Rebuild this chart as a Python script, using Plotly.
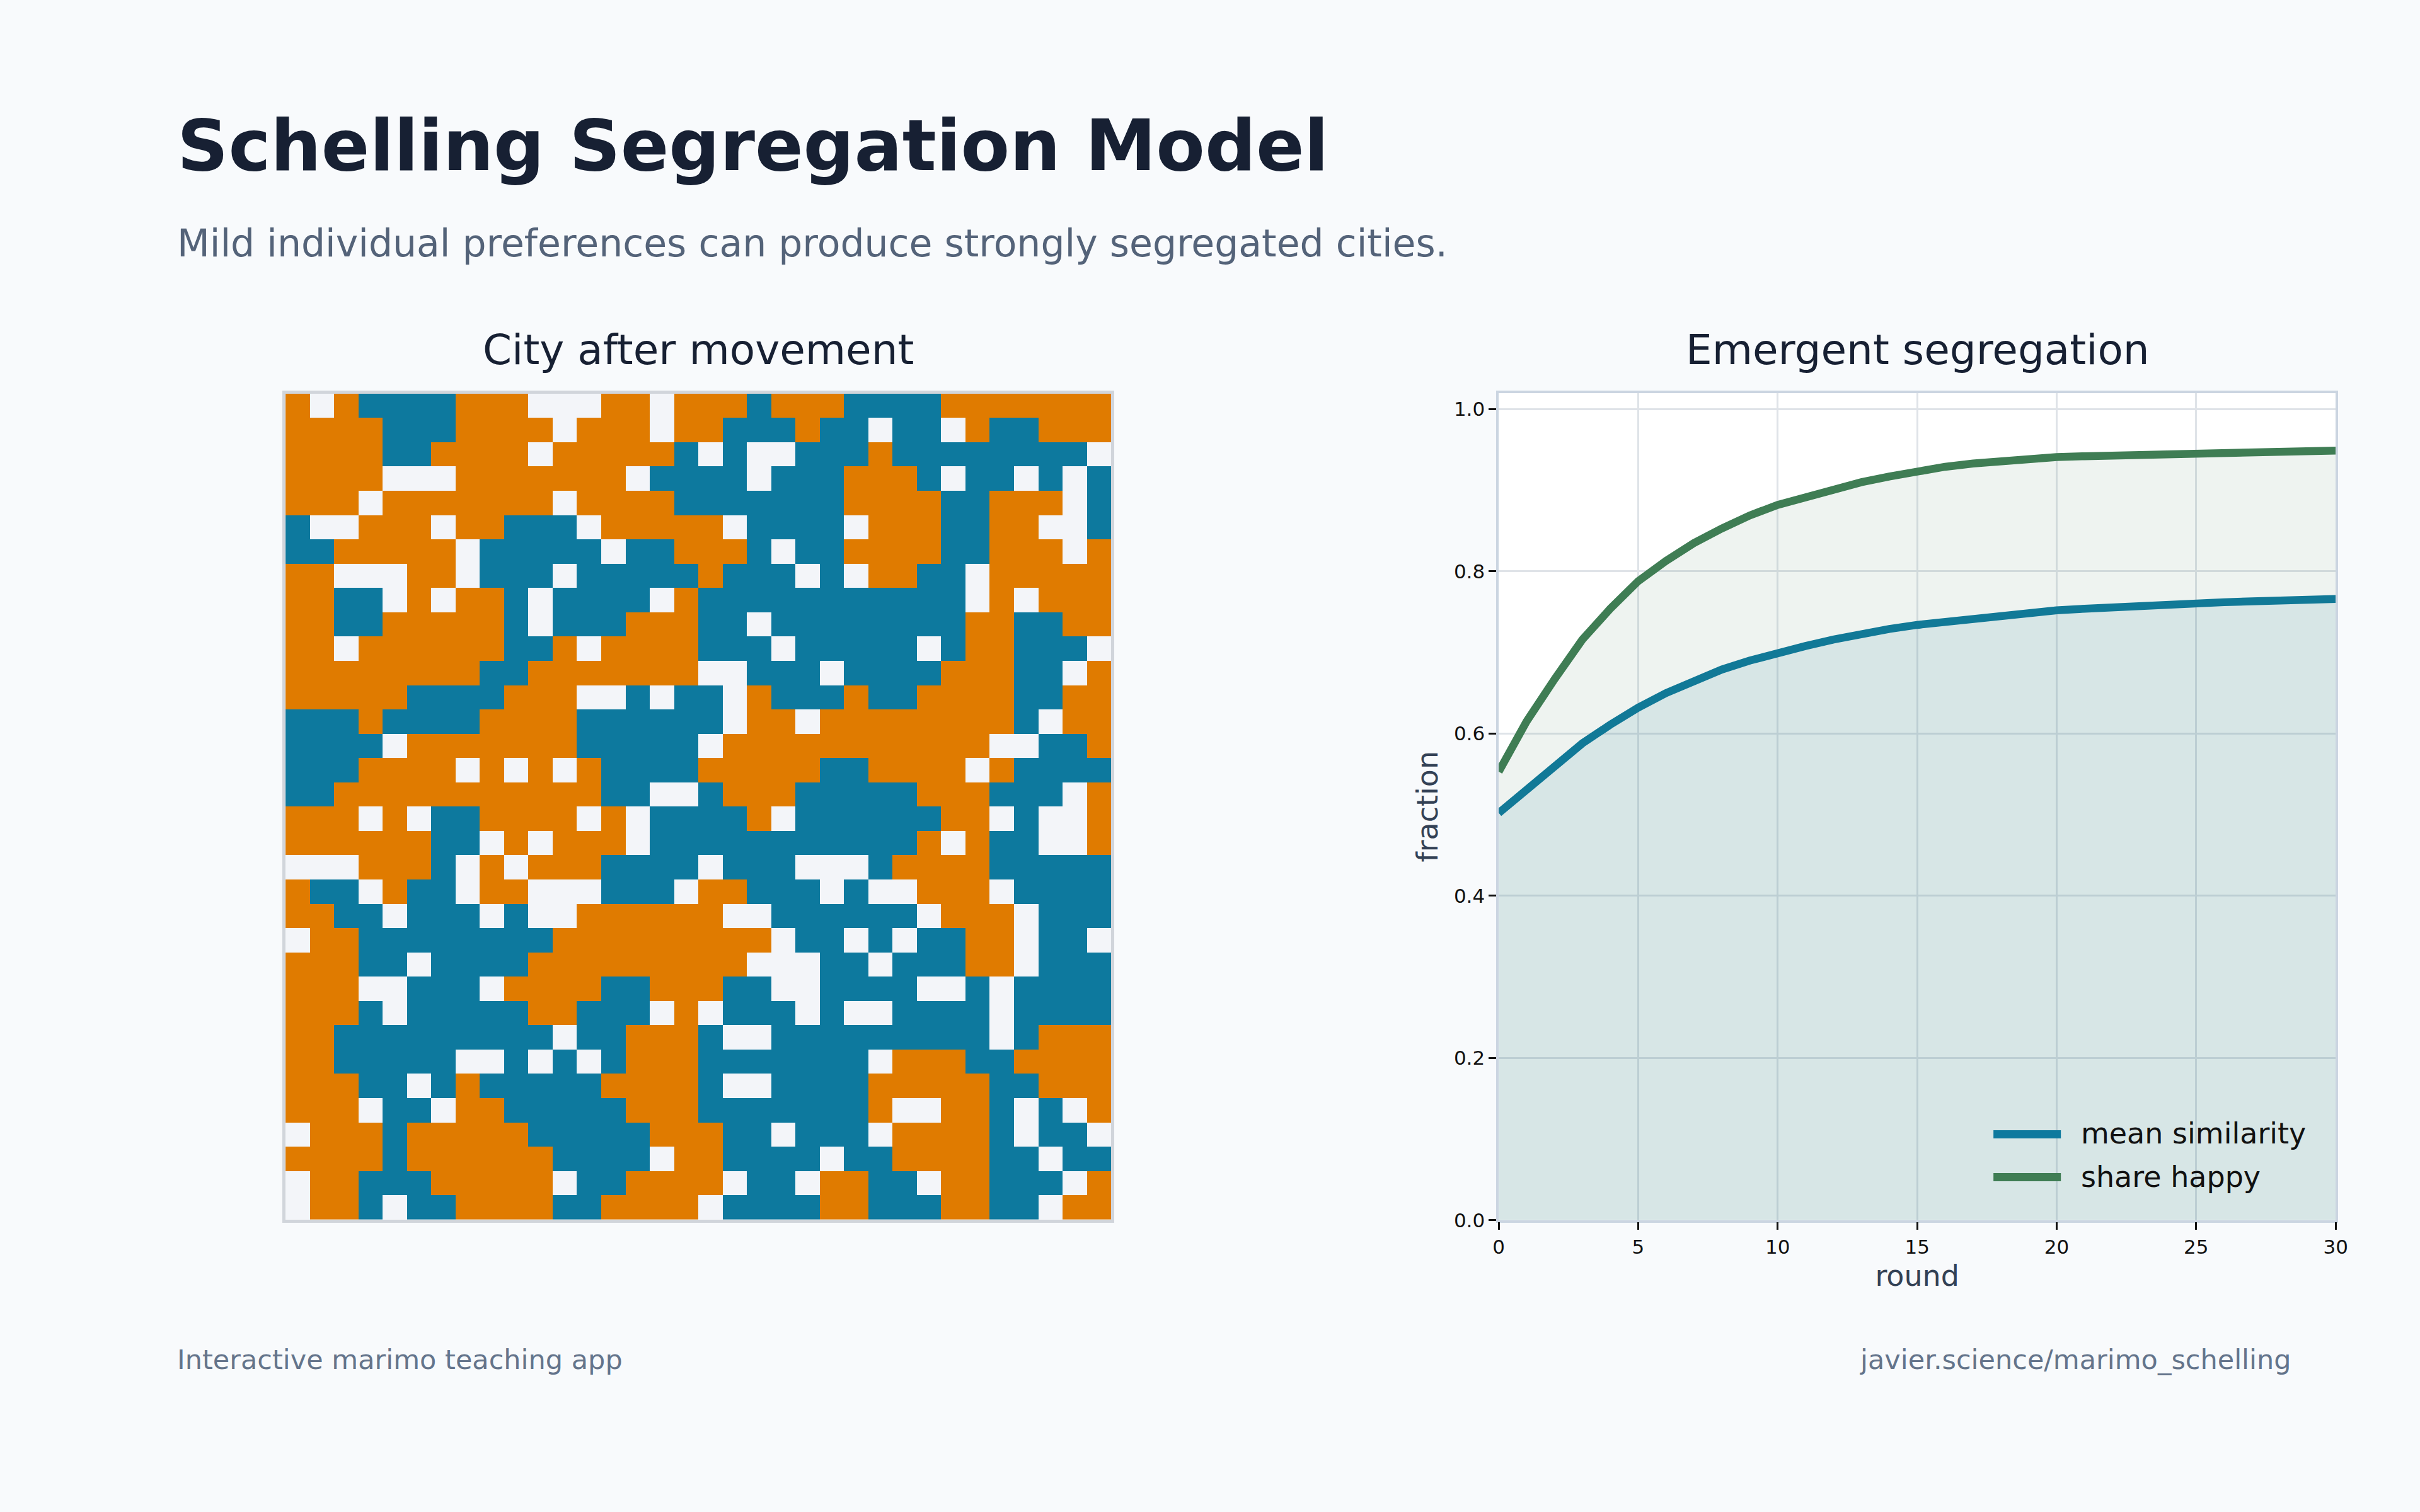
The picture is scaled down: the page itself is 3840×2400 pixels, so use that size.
import plotly.graph_objects as go

# ---------------- data ----------------
# City grid after movement (34 x 34): O = group A (orange), B = group B (blue), W = empty
city_rows = [
    "OWOBBBBOOOWWWOOWO" + "OOBOOOBBBBOOOOOOO",
    "OOOOBBBOOOOWOOOWO" + "OBBBOBBWBBWOBBOOO",
    "OOOOBBOOOOWOOOOOB" + "WBWWBBBOBBBBBBBBW",
    "OOOOWWWOOOOOOOWBB" + "BBWBBBOOOBWBBWBWB",
    "OOOWOOOOOOOWOOOOB" + "BBBBBBOOOOBBOOOWB",
    "BWWOOOWOOBBBWOOOO" + "OWBBBBWOOOBBOOWWB",
    "BBOOOOOWBBBBBWBBO" + "OOBWBBOOOOBBOOOWO",
    "OOWWWOOWBBBWBBBBB" + "OBBBWBWOOBBWOOOOO",
    "OOBBWOWOOBWBBBBWO" + "BBBBBBBBBBBWOWOOO",
    "OOBBOOOOOBWBBBOOO" + "BBWBBBBBBBBOOBBOO",
    "OOWOOOOOOBBOWOOOO" + "BBBWBBBBBWBOOBBBW",
    "OOOOOOOOBBOOOOOOO" + "WWBBBWBBBBOOOBBWO",
    "OOOOOBBBBOOOWWBWB" + "BWOBBBOBBOOOOBBOO",
    "BBBOBBBBOOOOBBBBB" + "BWOOWOOOOOOOOBWOO",
    "BBBBWOOOOOOOBBBBB" + "WOOOOOOOOOOOWWBBO",
    "BBBOOOOWOWOWOBBBB" + "OOOOOBBOOOOWOBBBB",
    "BBOOOOOOOOOOOBBWW" + "BOOOBBBBBOOOBBBWO",
    "OOOWOWBBOOOOWOWBB" + "BBOWBBBBBBOOWBWWO",
    "OOOOOOBBWOWOOOWBB" + "BBBBBBBBBOWOBBWWO",
    "WWWOOOBWOWOOOBBBB" + "WBBBWWWBOOOOBBBBB",
    "OBBWOBBWOOWWWBBBW" + "OOBBBWBWWOOOWBBBB",
    "OOBBWBBBWBWWOOOOO" + "OWWBBBBBBWOOOWBBB",
    "WOOBBBBBBBBOOOOOO" + "OOOWBBWBWBBOOWBBW",
    "OOOBBWBBBBOOOOOOO" + "OOWWWBBWBBBOOWBBB",
    "OOOWWBBBWOOOOBBOO" + "OBBWWBBBBWWBWBBBB",
    "OOOBWBBBBBOOBBBWO" + "WBBBWBWWBBBBWBBBB",
    "OOBBBBBBBBBWBBOOO" + "BWWBBBBBBBBBWBOOO",
    "OOBBBBBWWBWBWBOOO" + "BBBBBBBWOOOBBOOOO",
    "OOOBBWBOBBBBBOOOO" + "BWWBBBBOOOOOBBOOO",
    "OOOWBBWOOBBBBBOOO" + "BBBBBBBOWWOOBWBWO",
    "WOOOBOOOOOBBBBBOO" + "OBBWBBBWOOOOBWBBW",
    "OOOOBOOOOOOBBBBWO" + "OBBBBWBBOOOOBBWBB",
    "WOOBBBOOOOOWBBOOO" + "OWBBWOOBBWOOBBBWO",
    "WOOBWBBOOOOBBOOOO" + "WBBBBOOBBBOOBBWOO",
]
cell_codes = {"W": 0, "B": 1, "O": 2}

rounds = list(range(31))
mean_similarity = [0.502, 0.531, 0.560, 0.588, 0.611, 0.632, 0.650, 0.665, 0.679, 0.690,
                   0.700, 0.708, 0.716, 0.723, 0.729, 0.734, 0.738, 0.742, 0.746, 0.749,
                   0.752, 0.754, 0.756, 0.758, 0.760, 0.761, 0.762, 0.763, 0.764, 0.765, 0.766]
share_happy = [0.553, 0.615, 0.667, 0.716, 0.754, 0.788, 0.813, 0.835, 0.853, 0.869,
               0.882, 0.892, 0.902, 0.910, 0.917, 0.924, 0.929, 0.933, 0.936, 0.939,
               0.941, 0.942, 0.943, 0.944, 0.945, 0.946, 0.947, 0.948, 0.948, 0.949, 0.949]

x_ticks = [0, 5, 10, 15, 20, 25, 30]
y_ticks = [0.0, 0.2, 0.4, 0.6, 0.8, 1.0]

# ---------------- style ----------------
W, H = 3840, 2400
BG = "#f8fafc"
ORANGE = "#e07b00"
BLUE = "#0d799e"
EMPTY = "#f3f5f9"
GREEN = "#3f7d54"
DARK = "#172033"
FONT = "DejaVu Sans"

def px_x(p):
    p = p * 1.0079 - 10
    return p / W

def px_y(p):
    p = 235 + (p - 235) * 1.009
    return 1 - p / H

z = [[cell_codes[c] for c in row] for row in city_rows]
assert all(len(r) == 34 for r in z) and len(z) == 34

fig = go.Figure()

fig.add_trace(go.Heatmap(
    z=z,
    colorscale=[[0.0, EMPTY], [0.5, BLUE], [1.0, ORANGE]],
    zmin=0, zmax=2, showscale=False, xaxis="x", yaxis="y",
    hoverinfo="skip",
))

fig.add_trace(go.Scatter(
    x=rounds, y=mean_similarity, mode="lines", name="mean similarity",
    line=dict(color=BLUE, width=12.5), fill="tozeroy",
    fillcolor="rgba(13,121,158,0.10)", xaxis="x2", yaxis="y2", showlegend=False,
))
fig.add_trace(go.Scatter(
    x=rounds, y=share_happy, mode="lines", name="share happy",
    line=dict(color=GREEN, width=12.5), fill="tozeroy",
    fillcolor="rgba(63,125,84,0.09)", xaxis="x2", yaxis="y2", showlegend=False,
))

heat_x = [px_x(453), px_x(1763)]
heat_y = [px_y(1935), px_y(626)]
line_x = [px_x(2378), px_x(3706)]
line_y = [px_y(1936), px_y(625)]

fig.update_layout(
    width=W, height=H,
    margin=dict(l=0, r=0, t=0, b=0),
    paper_bgcolor=BG, plot_bgcolor="white",
    font=dict(family=FONT, color=DARK),
    showlegend=False,
    xaxis=dict(domain=heat_x, range=[-0.5, 33.5], showgrid=False, zeroline=False,
               showticklabels=False, ticks="", showline=True, mirror=True,
               linecolor="#d1d5db", linewidth=4.5, fixedrange=True),
    yaxis=dict(domain=heat_y, range=[33.5, -0.5], showgrid=False, zeroline=False,
               showticklabels=False, ticks="", showline=True, mirror=True,
               linecolor="#d1d5db", linewidth=4.5, fixedrange=True),
    xaxis2=dict(domain=line_x, range=[0, 30], anchor="y2",
                tickvals=x_ticks, ticks="outside", ticklen=12, tickwidth=3, tickcolor="#111111",
                tickfont=dict(size=31, color="#111111", family=FONT),
                showgrid=True, gridcolor="#dfe3e8", gridwidth=3, zeroline=False,
                showline=True, mirror=True, linecolor="#cbd5e1", linewidth=3.5,
                title=dict(text="round", font=dict(size=46, color="#334155", family=FONT), standoff=14)),
    yaxis2=dict(domain=line_y, range=[0, 1.02], anchor="x2",
                tickvals=y_ticks, tickformat=".1f", ticks="outside", ticklen=12, tickwidth=3,
                tickcolor="#111111", tickfont=dict(size=31, color="#111111", family=FONT),
                showgrid=True, gridcolor="#dfe3e8", gridwidth=3, zeroline=False,
                showline=True, mirror=True, linecolor="#cbd5e1", linewidth=3.5,
                title=dict(text="fraction", font=dict(size=46, color="#334155", family=FONT), standoff=12)),
)

annotations = [
    dict(text="<b>Schelling Segregation Model</b>", x=px_x(279), y=px_y(233), xanchor="left",
         yanchor="middle", font=dict(size=113, color=DARK, family=FONT)),
    dict(text="Mild individual preferences can produce strongly segregated cities.",
         x=px_x(279), y=px_y(388), xanchor="left", yanchor="middle",
         font=dict(size=60, color="#546379", family=FONT)),
    dict(text="City after movement", x=px_x(1108), y=px_y(557), xanchor="center", yanchor="middle",
         font=dict(size=66, color=DARK, family=FONT)),
    dict(text="Emergent segregation", x=px_x(3043), y=px_y(557), xanchor="center", yanchor="middle",
         font=dict(size=66, color=DARK, family=FONT)),
    dict(text="Interactive marimo teaching app", x=px_x(279), y=px_y(2157), xanchor="left",
         yanchor="middle", font=dict(size=43, color="#64748b", family=FONT)),
    dict(text="javier.science/marimo_schelling", x=px_x(3638), y=px_y(2157), xanchor="right",
         yanchor="middle", font=dict(size=43, color="#64748b", family=FONT)),
    dict(text="mean similarity", x=px_x(3300), y=px_y(1799), xanchor="left", yanchor="middle",
         font=dict(size=46, color="#111111", family=FONT)),
    dict(text="share happy", x=px_x(3300), y=px_y(1867), xanchor="left", yanchor="middle",
         font=dict(size=46, color="#111111", family=FONT)),
]
for a in annotations:
    a.update(xref="paper", yref="paper", showarrow=False)
fig.update_layout(annotations=annotations)

# legend keys
for yy, col in [(1800, BLUE), (1868, GREEN)]:
    fig.add_shape(type="line", xref="paper", yref="paper",
                  x0=px_x(3163), x1=px_x(3270), y0=px_y(yy), y1=px_y(yy),
                  line=dict(color=col, width=13))

fig.write_html("out.html")
